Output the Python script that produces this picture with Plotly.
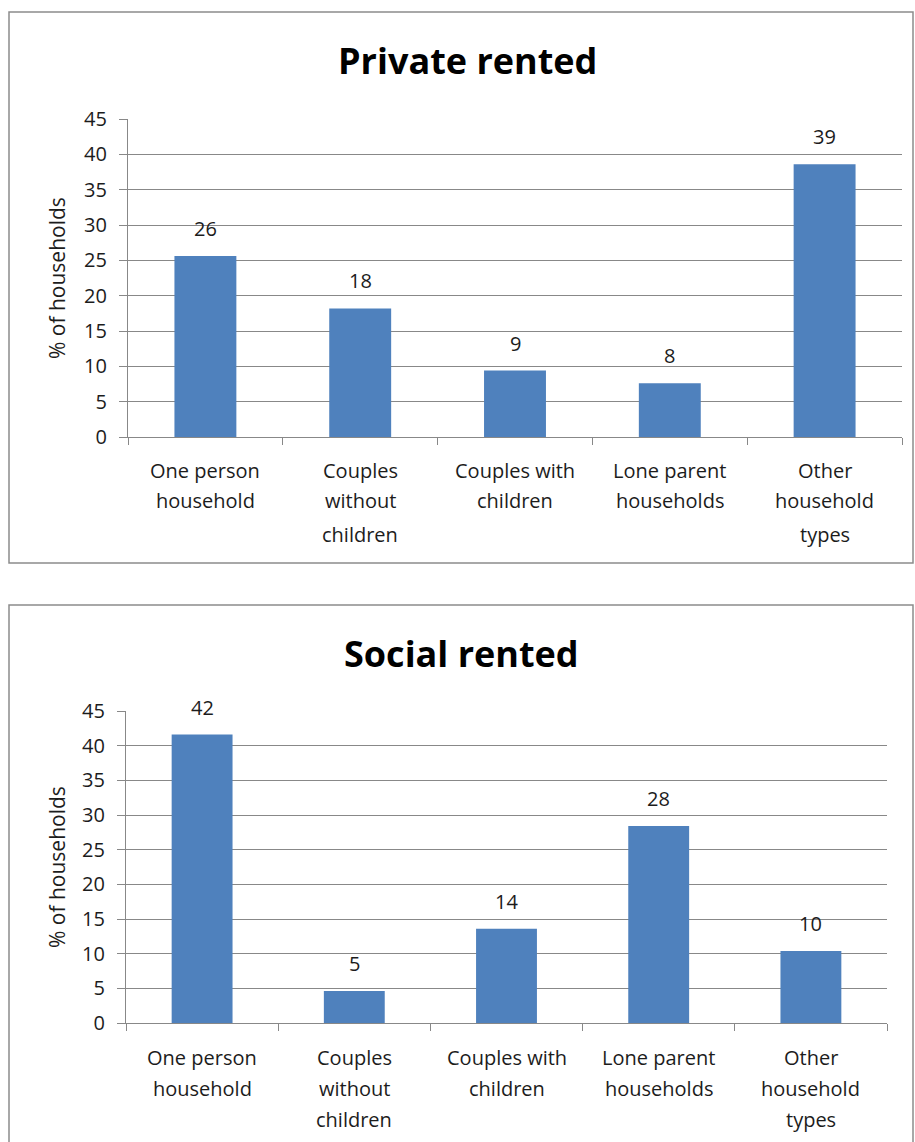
import plotly.graph_objects as go

# Household composition by tenure (% of households)
categories = [
    "One person<br>household",
    "Couples<br>without<br>children",
    "Couples with<br>children",
    "Lone parent<br>households",
    "Other<br>household<br>types",
]
private_rented = [25.6, 18.2, 9.4, 7.6, 38.6]
social_rented = [41.6, 4.6, 13.6, 28.4, 10.4]
y_ticks = [0, 5, 10, 15, 20, 25, 30, 35, 40, 45]

W, H = 915, 1142
BAR = "#4F81BD"
GRID = "#888888"
TXT = "#1c1c1c"
FONT = "Open Sans"


def px(v):
    return v / W


def py(v):
    return 1 - v / H


panels = [
    dict(name="Private rented", values=private_rented, ax="", x0=128, x1=902,
         ytop=119, ybot=437, title_x=468, title_y=60, ytitle_x=57,
         label_y=[470, 501, 534], box=(9, 12, 913, 563)),
    dict(name="Social rented", values=social_rented, ax="2", x0=126, x1=887,
         ytop=711, ybot=1023, title_x=461, title_y=653, ytitle_x=57,
         label_y=[1057, 1088, 1119], box=(9, 605, 913, 1160)),
]

fig = go.Figure()
annotations = []
shapes = []
layout_axes = {}

for p in panels:
    xa = "x" + p["ax"]
    ya = "y" + p["ax"]
    fig.add_trace(go.Bar(
        x=list(range(len(categories))), y=p["values"],
        xaxis=xa, yaxis=ya, marker=dict(color=BAR, line=dict(width=0)),
        width=0.4, showlegend=False, hoverinfo="skip",
    ))

    layout_axes["xaxis" + p["ax"]] = dict(
        domain=[px(p["x0"]), px(p["x1"])], anchor=ya, automargin=False,
        range=[-0.5, len(categories) - 0.5],
        tickmode="array", tickvals=[i - 0.5 for i in range(len(categories) + 1)],
        ticks="outside", ticklen=7, tickwidth=1.3, tickcolor=GRID,
        showticklabels=False, showgrid=False, zeroline=False,
        showline=True, linecolor=GRID, linewidth=1.3, fixedrange=True,
    )
    layout_axes["yaxis" + p["ax"]] = dict(
        domain=[py(p["ybot"]), py(p["ytop"])], anchor=xa, automargin=False,
        range=[0, 45], tickmode="array", tickvals=y_ticks,
        ticks="outside", ticklen=8, tickwidth=1.3, tickcolor=GRID,
        ticklabelstandoff=8,
        tickfont=dict(family=FONT, size=20, color=TXT),
        showgrid=True, gridcolor=GRID, gridwidth=1.3, zeroline=False,
        showline=True, linecolor=GRID, linewidth=1.3, fixedrange=True,
    )

    # chart title
    annotations.append(dict(
        text="<b>" + p["name"] + "</b>", xref="paper", yref="paper",
        x=px(p["title_x"]), y=py(p["title_y"]), xanchor="center", yanchor="middle",
        showarrow=False, font=dict(family=FONT, size=36, color="#000000"),
    ))
    # y-axis title
    annotations.append(dict(
        text="% of households", xref="paper", yref="paper",
        x=px(p["ytitle_x"]), y=py((p["ytop"] + p["ybot"]) / 2), textangle=-90,
        xanchor="center", yanchor="middle", showarrow=False,
        font=dict(family=FONT, size=21, color=TXT),
    ))
    # value labels above bars
    for i, v in enumerate(p["values"]):
        annotations.append(dict(
            text=f"{v:.0f}", xref=xa, yref=ya, x=i, y=v,
            xanchor="center", yanchor="bottom", yshift=12, showarrow=False,
            font=dict(family=FONT, size=20, color=TXT),
        ))
    # category labels, one line at a time
    for i, cat in enumerate(categories):
        for j, line in enumerate(cat.split("<br>")):
            annotations.append(dict(
                text=line, xref=xa, yref="paper", x=i, y=py(p["label_y"][j]),
                xanchor="center", yanchor="middle", showarrow=False,
                font=dict(family=FONT, size=20, color=TXT),
            ))
    # chart border
    bx0, by0, bx1, by1 = p["box"]
    shapes.append(dict(
        type="rect", xref="paper", yref="paper",
        x0=px(bx0), x1=px(bx1), y0=py(by1), y1=py(by0),
        line=dict(color="#8c8c8c", width=1.5), fillcolor="rgba(0,0,0,0)",
    ))

fig.update_layout(
    width=W, height=H, margin=dict(l=0, r=0, t=0, b=0, pad=0),
    paper_bgcolor="white", plot_bgcolor="white",
    annotations=annotations, shapes=shapes, bargap=0.6,
    **layout_axes,
)

fig.write_html("out.html")
